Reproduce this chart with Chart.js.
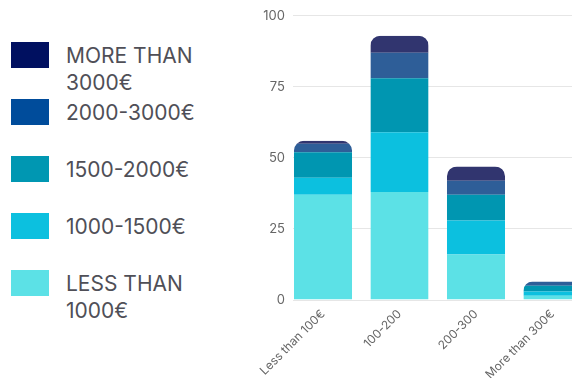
<!DOCTYPE html>
<html>
<head>
<meta charset="utf-8">
<script src="https://cdn.jsdelivr.net/npm/chart.js@4.4.0/dist/chart.umd.min.js"></script>
<style>
  html, body { margin: 0; padding: 0; background: #fff; width: 572px; height: 378px; overflow: hidden; }
  #legend { position: absolute; left: 0; top: 0; width: 250px; height: 378px; font-family: 'Inter', sans-serif; }
  .legend-item { position: absolute; left: 11px; display: flex; align-items: flex-start; }
  .legend-swatch { width: 38px; height: 26px; flex: none; }
  .legend-text { margin-left: 17px; width: 140px; font-size: 21px; line-height: 27px; color: #4f4f57; }
  #chart-box { position: absolute; left: 250px; top: 0; width: 350px; height: 378px; }
</style>
</head>
<body>
<div id="legend"></div>
<div id="chart-box"><canvas id="spend"></canvas></div>
<script>
// Spending per order band, split by monthly income
const categories = ['Less than 100€', '100-200', '200-300', 'More than 300€'];
const seriesLabels = ['LESS THAN 1000€', '1000-1500€', '1500-2000€', '2000-3000€', 'MORE THAN 3000€'];

const lessThan1000 = [37, 38, 16, 1.5];
const from1000to1500 = [6, 21, 12, 1.5];
const from1500to2000 = [9, 19, 9, 2];
const from2000to3000 = [3, 9, 5, 1.5];
const moreThan3000 = [1, 6, 5, 0];

const yTicks = [0, 25, 50, 75, 100];

const barColors = ['#5CE1E6', '#0CC0DF', '#0096B1', '#2E5E98', '#31356F'];
const legendColors = ['#5CE1E6', '#0CC0DF', '#0097B2', '#004C9B', '#001060'];

const series = [lessThan1000, from1000to1500, from1500to2000, from2000to3000, moreThan3000];

/**
 * LEGEND - biggest income band on top
 */
function buildLegend() {
  const box = document.getElementById('legend');
  const order = seriesLabels.map((_, i) => i).reverse();
  order.forEach((idx, row) => {
    const item = document.createElement('div');
    item.className = 'legend-item';
    item.style.top = (42 + row * 57) + 'px';
    item.innerHTML = `<div class="legend-swatch" style="background:${legendColors[idx]}"></div>
      <div class="legend-text">${seriesLabels[idx]}</div>`;
    box.appendChild(item);
  });
}

function topRoundedRect(ctx, x, y, w, h, r) {
  ctx.moveTo(x, y + h);
  ctx.lineTo(x, y + r);
  ctx.arcTo(x, y, x + r, y, r);
  ctx.lineTo(x + w - r, y);
  ctx.arcTo(x + w, y, x + w, y + r, r);
  ctx.lineTo(x + w, y + h);
  ctx.closePath();
}

// round the top of each whole stack, not each segment
const roundedStacks = {
  id: 'roundedStacks',
  beforeDatasetsDraw(chart) {
    const ctx = chart.ctx;
    const metas = chart.getSortedVisibleDatasetMetas();
    ctx.save();
    ctx.beginPath();
    categories.forEach((c, i) => {
      let top = Infinity, base = -Infinity, x = 0, w = 0;
      metas.forEach(m => {
        const bar = m.data[i];
        if (!bar) return;
        top = Math.min(top, bar.y, bar.base);
        base = Math.max(base, bar.y, bar.base);
        x = bar.x;
        w = bar.width;
      });
      const r = Math.min(10, (base - top) / 2, w / 2);
      topRoundedRect(ctx, x - w / 2, top, w, base - top, r);
    });
    ctx.clip();
  },
  afterDatasetsDraw(chart) {
    chart.ctx.restore();
  }
};

buildLegend();

new Chart(document.getElementById('spend'), {
  type: 'bar',
  data: {
    datasets: series.map((values, s) => ({
      label: seriesLabels[s],
      data: values.map((v, i) => ({ x: i, y: v })),
      backgroundColor: barColors[s],
      borderWidth: 0,
      categoryPercentage: 1,
      barPercentage: 0.76
    }))
  },
  options: {
    responsive: true,
    maintainAspectRatio: false,
    animation: false,
    layout: { padding: { top: 13, left: 0, right: 0, bottom: 0 } },
    plugins: {
      legend: { display: false },
      tooltip: { enabled: false }
    },
    scales: {
      x: {
        type: 'linear',
        stacked: true,
        offset: false,
        min: -0.392,
        max: 3.621,
        grid: { display: false, offset: false, drawTicks: false },
        border: { display: false },
        ticks: {
          stepSize: 1,
          includeBounds: false,
          autoSkip: false,
          minRotation: 45,
          maxRotation: 45,
          padding: 7,
          font: { family: "'Inter', sans-serif", size: 12 },
          color: '#666',
          callback: v => categories[v] ?? ''
        },
        afterFit(scale) {
          scale.height = 78;
          scale.paddingLeft = 0;
          scale.paddingRight = 0;
        }
      },
      y: {
        stacked: true,
        min: 0,
        max: 100,
        grid: { color: '#e6e6e6', drawTicks: false },
        border: { display: false },
        ticks: { padding: 8, font: { family: "'Inter', sans-serif", size: 13 }, color: '#666' },
        afterBuildTicks(scale) { scale.ticks = yTicks.map(v => ({ value: v })); },
        afterFit(scale) { scale.width = 43; }
      }
    }
  },
  plugins: [roundedStacks]
});
</script>
</body>
</html>
